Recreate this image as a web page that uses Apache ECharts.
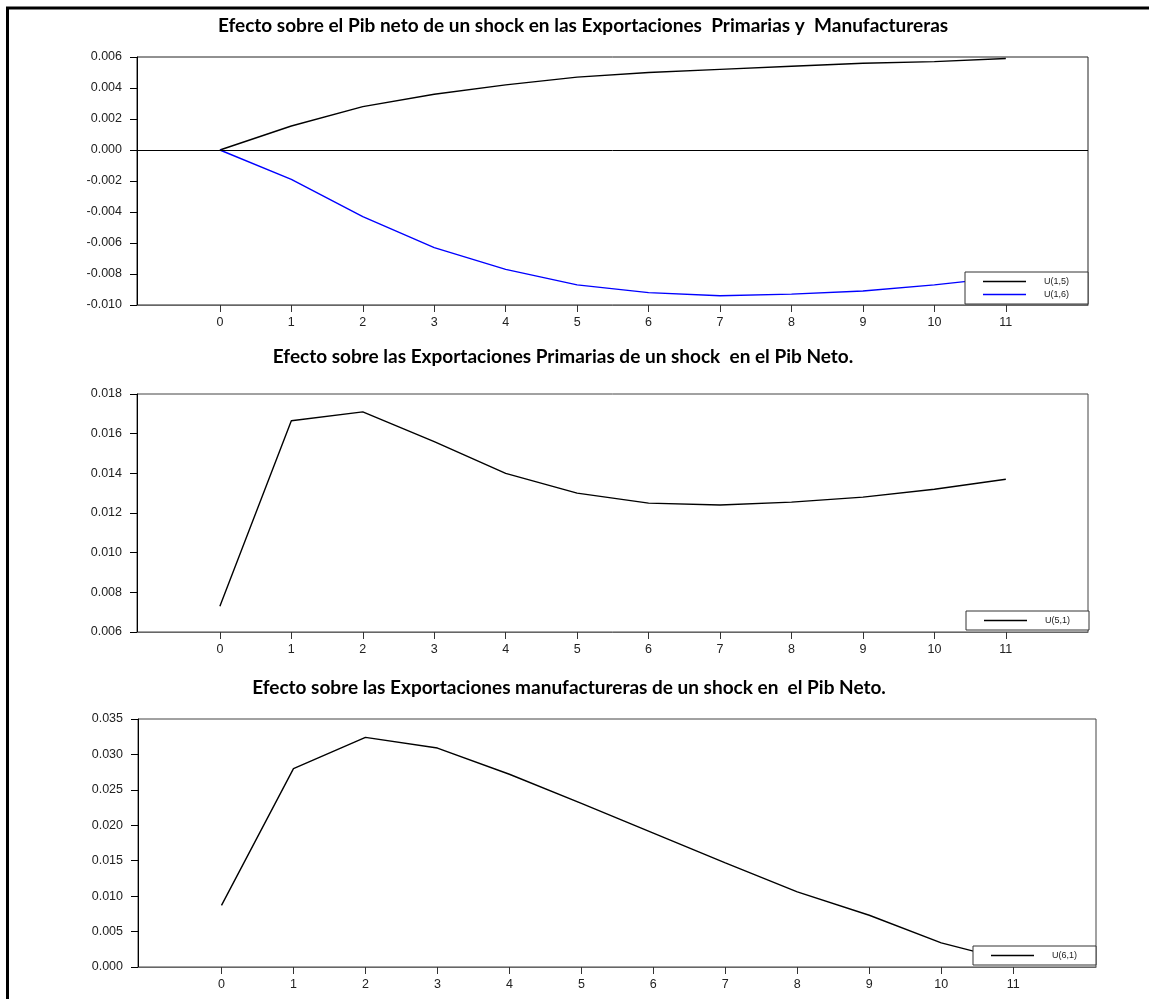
<!DOCTYPE html>
<html>
<head>
<meta charset="utf-8">
<script src="https://cdn.jsdelivr.net/npm/echarts@6/dist/echarts.min.js"></script>
<style>
* { margin: 0; padding: 0; }
body { background: #fff; }
</style>
</head>
<body>
<!--三个脉冲响应图放在同一个容器里-->
<div id="main" style="width: 1149px; height: 999px"></div>
<script>
// periods on the x axis
var periods = [0, 1, 2, 3, 4, 5, 6, 7, 8, 9, 10, 11];

// chart 1: Pib neto
var u15 = [0, 0.00155, 0.0028, 0.0036, 0.0042, 0.0047, 0.0050, 0.0052, 0.0054, 0.0056, 0.0057, 0.0059];
var u16 = [0, -0.0019, -0.0043, -0.0063, -0.0077, -0.0087, -0.0092, -0.0094, -0.0093, -0.0091, -0.0087, -0.0082];
// chart 2: Exportaciones primarias
var u51 = [0.0073, 0.01665, 0.0171, 0.0156, 0.0140, 0.0130, 0.0125, 0.0124, 0.01255, 0.0128, 0.0132, 0.0137];
// chart 3: Exportaciones manufactureras
var u61 = [0.0087, 0.0280, 0.0324, 0.0309, 0.0272, 0.0231, 0.0189, 0.0147, 0.0106, 0.0073, 0.0034, 0.0008];

var titles = [
  "Efecto sobre el Pib neto de un shock en las Exportaciones  Primarias y  Manufactureras",
  "Efecto sobre las Exportaciones Primarias de un shock  en el Pib Neto.",
  "Efecto sobre las Exportaciones manufactureras de un shock en  el Pib Neto."
];

function pairs(vals) {
  var out = [];
  for (var i = 0; i < periods.length; i++) {
    out.push([periods[i], vals[i]]);
  }
  return out;
}

var font = "'Liberation Sans', Arial, sans-serif";
// legend line icon (filled thin bar)
var lineIcon = "path://M0,0H43V1.4H0Z";

function xAxis(idx) {
  return {
    type: "value",
    gridIndex: idx,
    min: -1.16,
    max: 12.15,
    axisLine: { onZero: false, lineStyle: { color: "#666", width: 1 } },
    axisTick: { customValues: periods, length: 7, lineStyle: { color: "#333" } },
    axisLabel: { customValues: periods, margin: 11, color: "#222", fontSize: 12.5, fontFamily: font },
    splitLine: { show: false },
  };
}

function yAxis(idx, min, max, step) {
  return {
    type: "value",
    gridIndex: idx,
    min: min,
    max: max,
    interval: step,
    axisLine: { show: true, onZero: false, lineStyle: { color: "#000", width: 1 } },
    axisTick: { show: true, length: 7, lineStyle: { color: "#000" } },
    axisLabel: {
      margin: 15,
      color: "#222",
      fontSize: 12.5,
      fontFamily: font,
      formatter: function (v) { return v.toFixed(3); },
    },
    splitLine: { show: false },
  };
}

function legend(names, left, top) {
  return {
    data: names,
    icon: lineIcon,
    orient: "vertical",
    left: left,
    top: top,
    padding: [5, 19, 5, 18],
    itemWidth: 43,
    itemHeight: 10,
    itemGap: 4,
    backgroundColor: "#fff",
    borderColor: "#333",
    borderWidth: 1,
    textStyle: { fontSize: 9, color: "#222", fontFamily: font, padding: [0, 0, 0, 13] },
  };
}

var chart = echarts.init(document.getElementById("main"));
chart.setOption({
  animation: false,
  backgroundColor: "#fff",
  grid: [
    { left: 137, right: 61, top: 57, height: 248, show: true, borderColor: "#222", borderWidth: 1 },
    { left: 137, right: 61, top: 394, height: 238, show: true, borderColor: "#444", borderWidth: 1 },
    { left: 138, right: 53, top: 719, height: 248, show: true, borderColor: "#444", borderWidth: 1 },
  ],
  xAxis: [xAxis(0), xAxis(1), xAxis(2)],
  yAxis: [
    yAxis(0, -0.01, 0.006, 0.002),
    yAxis(1, 0.006, 0.018, 0.002),
    yAxis(2, 0, 0.035, 0.005),
  ],
  legend: [
    legend(["U(1,5)", "U(1,6)"], 965, 272),
    legend(["U(5,1)"], 966, 611),
    legend(["U(6,1)"], 973, 946),
  ],
  //外框和标题
  graphic: [
    {
      type: "rect",
      shape: { x: 7.5, y: 8, width: 1300, height: 1200 },
      style: { fill: null, stroke: "#000", lineWidth: 3 },
      silent: true,
    },
  ].concat(titles.map(function (t, i) {
    return {
      type: "text",
      x: [583, 563, 569][i],
      y: [26, 357, 688][i],
      silent: true,
      style: {
        text: t,
        align: "center",
        verticalAlign: "middle",
        font: "bold 19px Lato, 'Open Sans', sans-serif",
        fill: "#000",
      },
    };
  })),
  series: [
    {
      name: "U(1,5)",
      type: "line",
      xAxisIndex: 0,
      yAxisIndex: 0,
      data: pairs(u15),
      symbol: "none",
      lineStyle: { color: "#000", width: 1.4 },
      itemStyle: { color: "#000" },
      markLine: {
        silent: true,
        symbol: "none",
        label: { show: false },
        lineStyle: { color: "#000", width: 1, type: "solid" },
        data: [{ yAxis: 0 }],
      },
    },
    {
      name: "U(1,6)",
      type: "line",
      xAxisIndex: 0,
      yAxisIndex: 0,
      data: pairs(u16),
      symbol: "none",
      lineStyle: { color: "#0000ff", width: 1.4 },
      itemStyle: { color: "#0000ff" },
    },
    {
      name: "U(5,1)",
      type: "line",
      xAxisIndex: 1,
      yAxisIndex: 1,
      data: pairs(u51),
      symbol: "none",
      lineStyle: { color: "#000", width: 1.4 },
      itemStyle: { color: "#000" },
    },
    {
      name: "U(6,1)",
      type: "line",
      xAxisIndex: 2,
      yAxisIndex: 2,
      data: pairs(u61),
      symbol: "none",
      lineStyle: { color: "#000", width: 1.4 },
      itemStyle: { color: "#000" },
    },
  ],
});
</script>
</body>
</html>
